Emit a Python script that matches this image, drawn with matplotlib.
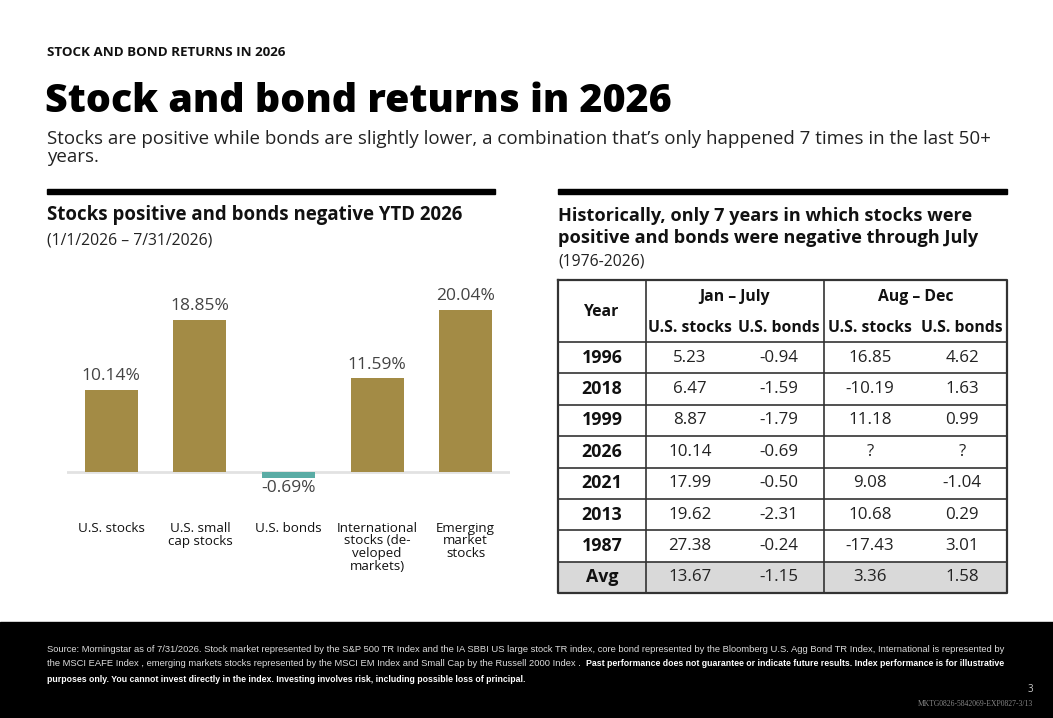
import numpy as np
import matplotlib
matplotlib.use("Agg")
from matplotlib import pyplot as plt
from matplotlib.patches import Rectangle

# bar chart data
categories = ["U.S. stocks", "U.S. small\ncap stocks", "U.S. bonds",
              "International\nstocks (de-\nveloped\nmarkets)", "Emerging\nmarket\nstocks"]
ytd_returns = [10.14, 18.85, -0.69, 11.59, 20.04]

# table data
years = ["1996", "2018", "1999", "2026", "2021", "2013", "1987", "Avg"]
jan_jul_stocks = ["5.23", "6.47", "8.87", "10.14", "17.99", "19.62", "27.38", "13.67"]
jan_jul_bonds = ["-0.94", "-1.59", "-1.79", "-0.69", "-0.50", "-2.31", "-0.24", "-1.15"]
aug_dec_stocks = ["16.85", "-10.19", "11.18", "?", "9.08", "10.68", "-17.43", "3.36"]
aug_dec_bonds = ["4.62", "1.63", "0.99", "?", "-1.04", "0.29", "3.01", "1.58"]

foot_1 = ("Source: Morningstar as of 7/31/2026. Stock market represented by the S&P 500 TR Index "
          "and the IA SBBI US large stock TR index, core bond represented by the Bloomberg U.S. Agg "
          "Bond TR Index, International is represented by")
foot_2 = ("the MSCI EAFE Index , emerging markets stocks represented by the MSCI EM Index and "
          "Small Cap by the Russell 2000 Index .")
foot_2b = ("Past performance does not guarantee or indicate future results. Index performance "
           "is for illustrative")
foot_3 = ("purposes only. You cannot invest directly in the index. Investing involves risk, "
          "including possible loss of principal.")

gold = "#a38b45"
teal = "#5aaca5"
W, H = 1053, 718

plt.rcParams['font.family'] = ['Open Sans', 'DejaVu Sans']

fig = plt.figure(figsize=(W / 100, H / 100), dpi=100)
fig.patch.set_facecolor("white")
rend = fig.canvas.get_renderer()

def fx(x):
    return x / W

def fy(y):
    return 1 - y / H

# header texts
fig.text(fx(47), fy(53), "STOCK AND BOND RETURNS IN 2026", fontsize=9.6,
         fontweight="bold", va="center", color="#111")
fig.text(fx(45), fy(101), "Stock and bond returns in 2026", fontsize=28.4,
         fontweight="heavy", va="center", color="black")
fig.text(fx(47), fy(148), "Stocks are positive while bonds are slightly lower, a combination "
         "that\u2019s only happened 7 times in the last 50+\nyears.", fontsize=13.5,
         va="center", color="#222", linespacing=1.0)

# black rules above the two panels
fig.add_artist(Rectangle((fx(47), fy(194)), fx(448), 5 / H, color="black",
                         transform=fig.transFigure))
fig.add_artist(Rectangle((fx(558), fy(194)), fx(449), 5 / H, color="black",
                         transform=fig.transFigure))

fig.text(fx(47), fy(215), "Stocks positive and bonds negative YTD 2026", fontsize=13.4,
         fontweight="bold", va="center", color="#111")
fig.text(fx(47), fy(240), "(1/1/2026 \u2013 7/31/2026)", fontsize=11.3, va="center", color="#222")

fig.text(fx(558), fy(227), "Historically, only 7 years in which stocks were\n"
         "positive and bonds were negative through July", fontsize=13.1,
         fontweight="bold", va="center", color="#111", linespacing=1.25)
fig.text(fx(558), fy(261), "(1976-2026)", fontsize=11.3, va="center", color="#222")

# bar chart
scale = 8.09  # px per percent
ax = fig.add_axes([fx(67), fy(600), fx(443), 310 / H])
x = np.arange(len(categories))
colors = [gold if v >= 0 else teal for v in ytd_returns]
ax.bar(x, ytd_returns, width=0.6, color=colors, zorder=3)
ax.axhline(0, color="#e2e2e2", lw=2, zorder=2)
ax.set_xlim(-0.5, 4.5)
ax.set_ylim(-128 / scale, 182 / scale)
ax.axis("off")
for i, v in enumerate(ytd_returns):
    if v >= 0:
        ax.annotate(f"{v:.2f}%", (i, v), xytext=(0, 4), textcoords="offset points",
                    ha="center", va="bottom", fontsize=12.5, color="#444")
    else:
        ax.annotate(f"{v:.2f}%", (i, v), xytext=(0, -2), textcoords="offset points",
                    ha="center", va="top", fontsize=12.5, color="#444")
    ax.text(i, -50 / scale, categories[i], ha="center", va="top", fontsize=9.6,
            color="#111", linespacing=0.95)

# table
tx0, tx1, ty0, ty1 = 558, 1007, 280, 593
axt = fig.add_axes([fx(tx0), fy(ty1), fx(tx1 - tx0), (ty1 - ty0) / H])
axt.set_xlim(tx0, tx1)
axt.set_ylim(ty1, ty0)
axt.axis("off")

head_h = 62
row_h = (ty1 - ty0 - head_h) / len(years)
col_edges = [558, 646, 824, 1007]
sub_centers = [690, 779, 870, 962]

# avg row shading
axt.add_patch(Rectangle((tx0, ty1 - row_h), tx1 - tx0, row_h, color="#d9d9d9", zorder=0))

lc = "#333"
axt.plot([tx0, tx1, tx1, tx0, tx0], [ty0, ty0, ty1, ty1, ty0], color=lc, lw=1.6, clip_on=False)
for xe in col_edges[1:3]:
    axt.plot([xe, xe], [ty0, ty1], color=lc, lw=1.2)
for r in range(len(years)):
    yy = ty0 + head_h + r * row_h
    axt.plot([tx0, tx1], [yy, yy], color=lc, lw=1.2)

hfs = 11.3
axt.text((col_edges[0] + col_edges[1]) / 2, ty0 + 32, "Year", ha="center", va="center",
         fontsize=hfs, fontweight="bold", color="#111")
axt.text((col_edges[1] + col_edges[2]) / 2, ty0 + 17, "Jan \u2013 July", ha="center",
         va="center", fontsize=hfs, fontweight="bold", color="#111")
axt.text((col_edges[2] + col_edges[3]) / 2, ty0 + 17, "Aug \u2013 Dec", ha="center",
         va="center", fontsize=hfs, fontweight="bold", color="#111")
for cx, lab in zip(sub_centers, ["U.S. stocks", "U.S. bonds", "U.S. stocks", "U.S. bonds"]):
    axt.text(cx, ty0 + 48, lab, ha="center", va="center", fontsize=hfs,
             fontweight="bold", color="#111")

cols = [jan_jul_stocks, jan_jul_bonds, aug_dec_stocks, aug_dec_bonds]
for r, yr in enumerate(years):
    cy = ty0 + head_h + (r + 0.5) * row_h
    axt.text((col_edges[0] + col_edges[1]) / 2, cy, yr, ha="center", va="center",
             fontsize=12.8, fontweight="bold", color="#111")
    for cx, col in zip(sub_centers, cols):
        axt.text(cx, cy, col[r], ha="center", va="center", fontsize=12.2, color="#222")

# footer
fig.add_artist(Rectangle((0, 0), 1, fy(622), color="black", transform=fig.transFigure))
foot_font = ['Liberation Sans Narrow', 'Liberation Sans', 'DejaVu Sans']
t1 = fig.text(fx(47), fy(650), foot_1, fontsize=7, color="#ddd", va="center", family=foot_font)
# shrink the first line so it ends near x=1007
w1 = t1.get_window_extent(rend).width
ffs = 7 * 960 / w1
t1.set_fontsize(ffs)
t2 = fig.text(fx(47), fy(664), foot_2, fontsize=ffs, color="#ddd", va="center", family=foot_font)
x2 = t2.get_window_extent(rend).x1 + 5
t2b = fig.text(x2 / W, fy(664), foot_2b, fontsize=ffs, color="white", va="center",
               fontweight="bold", family=foot_font)
# bold part of line 2 should end near x=1001
wb = t2b.get_window_extent(rend).width
bfs = ffs * (1001 - x2) / wb
t2b.set_fontsize(bfs)
fig.text(fx(47), fy(679), foot_3, fontsize=bfs, color="white", va="center",
         fontweight="bold", family=foot_font)
fig.text(fx(1033), fy(690), "3", fontsize=7, color="#ccc", ha="right", va="center")
fig.text(fx(1033), fy(704), "MKTG0826-5842069-EXP0827-3/13", fontsize=5.5, color="#888",
         ha="right", va="center", family=['Liberation Serif', 'DejaVu Serif'])

fig.savefig("out.png", dpi=100)
